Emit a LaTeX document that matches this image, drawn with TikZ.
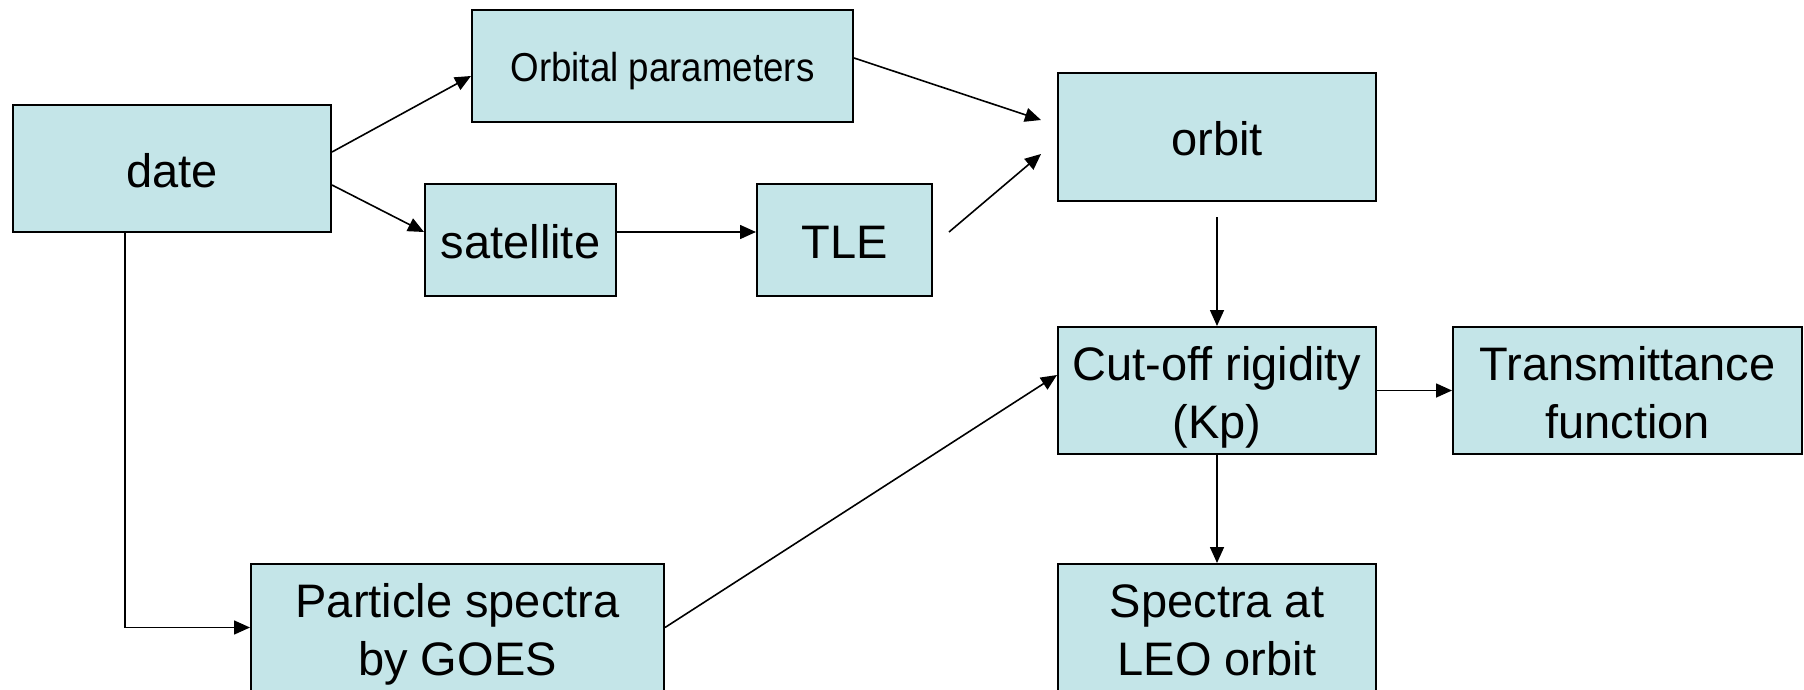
\documentclass[tikz,border=0pt]{standalone}
\usepackage{fontspec}
\usepackage{graphicx}
\setmainfont{Liberation Sans}
\usetikzlibrary{arrows.meta,calc}
\definecolor{boxfill}{HTML}{C4E5E8}
\newcommand{\bxt}[2][13.5pt]{\raisebox{-#1}[0pt][0pt]{\begin{tabular}{@{}c@{}}#2\end{tabular}}}
\tikzset{
  box/.style={draw=black, line width=2pt, fill=boxfill, rectangle, inner sep=0pt,
    align=center, font=\fontsize{47}{57.5}\selectfont},
  conn/.style={line width=1.6pt, -{Triangle[length=16pt,width=14pt]}},
}
\begin{document}
\begin{tikzpicture}[x=1pt,y=-1pt]
\useasboundingbox (0,0) rectangle (1804,690);
\begin{scope}
\clip (0,0) rectangle (1804,690);
\node[box, minimum width=318pt, minimum height=127pt] (date) at (172,168.5) {\bxt{date}};
\node[box, minimum width=381pt, minimum height=112pt, font=\fontsize{36.7}{44}\selectfont] (orb) at (662.5,66) {\bxt[12.5pt]{\scalebox{1}[1.1]{Orbital parameters}}};
\node[box, minimum width=191pt, minimum height=112pt] (sat) at (520.5,240) {\bxt{satellite}};
\node[box, minimum width=175pt, minimum height=112pt] (tle) at (844.5,240) {\bxt{TLE}};
\node[box, minimum width=318pt, minimum height=128pt] (orbit) at (1217,137) {\bxt{orbit}};
\node[box, minimum width=318pt, minimum height=127pt] (cut) at (1217,390.5) {\bxt{Cut-off rigidity\\(Kp)}};
\node[box, minimum width=349pt, minimum height=127pt] (trans) at (1627.5,390.5) {\bxt{Transmittance\\function}};
\node[box, minimum width=318pt, minimum height=127pt] (leo) at (1217,627.5) {\bxt{Spectra at\\LEO orbit}};
\node[box, minimum width=413pt, minimum height=127pt] (part) at (457.5,627.5) {\bxt{Particle spectra\\by GOES}};

\draw[conn] ([yshift=16.5pt]date.east) -- ([yshift=-10pt]orb.west);
\draw[conn] ([yshift=-16.5pt]date.east) -- ([yshift=8pt]sat.west);
\draw[conn] ([yshift=8pt]sat.east) -- ([yshift=8pt]tle.west);
\draw[conn] ([yshift=8pt]orb.east) -- ([xshift=-16pt,yshift=17pt]orbit.west);
\draw[conn] ([xshift=16pt,yshift=8pt]tle.east) -- ([xshift=-16pt,yshift=-17pt]orbit.west);
\draw[conn] ([yshift=-15pt]orbit.south) -- (cut.north);
\draw[conn] ([xshift=-47pt]date.south) |- (part.west);
\draw[conn] (part.east) -- ([yshift=15.5pt]cut.west);
\draw[conn] (cut.east) -- (trans.west);
\draw[conn] (cut.south) -- (leo.north);
\end{scope}
\end{tikzpicture}
\end{document}
